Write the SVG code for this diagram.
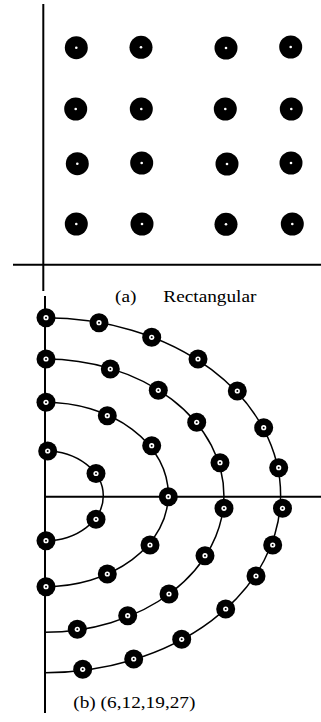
<svg xmlns="http://www.w3.org/2000/svg" width="321" height="722" viewBox="0 0 321 722">
<defs>
<style>
.axis{stroke:#000;stroke-width:2;fill:none}
.arc{stroke:#000;stroke-width:1.5;fill:none}
.lbl{font-family:"Liberation Serif","Times New Roman",serif;font-size:16.5px;fill:#000}
</style>
<g id="gd"><circle r="11.5" fill="#000"/><circle r="1.3" fill="#fff"/></g>
<g id="pd"><circle r="9.5" fill="#000"/><circle r="2.6" fill="#fff"/><circle r="1" fill="#000"/></g>
</defs>
<rect width="321" height="722" fill="#fff"/>
<g id="connectors">
<line class="axis" x1="43.3" y1="4" x2="43.3" y2="291"/>
<line class="axis" x1="13" y1="264.7" x2="321" y2="264.7"/>
<line class="axis" x1="45" y1="296" x2="45" y2="713"/>
<line class="axis" x1="45" y1="496.7" x2="321" y2="496.7"/>
<path class="arc" d="M45 451 A58.3 44.85 0 0 1 45 540.7"/>
<path class="arc" d="M45 402.3 A123.3 92.2 0 0 1 45 586.7"/>
<path class="arc" d="M45 359 A179 136.65 0 0 1 45 632.3"/>
<path class="arc" d="M45 317.7 A235.7 177.5 0 0 1 45 672.7"/>
</g>
<g id="grid">
<use href="#gd" x="76.3" y="47.7"/><use href="#gd" x="141" y="47.3"/><use href="#gd" x="226" y="48"/><use href="#gd" x="290.7" y="47"/>
<use href="#gd" x="75.7" y="109"/><use href="#gd" x="141.3" y="109"/><use href="#gd" x="225.3" y="109"/><use href="#gd" x="291.3" y="109"/>
<use href="#gd" x="77.3" y="163.7"/><use href="#gd" x="141.7" y="163"/><use href="#gd" x="227" y="164"/><use href="#gd" x="291" y="163"/>
<use href="#gd" x="76.3" y="224"/><use href="#gd" x="142" y="224"/><use href="#gd" x="226" y="224.3"/><use href="#gd" x="292.3" y="224"/>
</g>
<g id="ring1">
<use href="#pd" x="47.7" y="451"/><use href="#pd" x="96" y="473.5"/><use href="#pd" x="96" y="519.3"/><use href="#pd" x="46" y="540.7"/>
</g>
<g id="ring2">
<use href="#pd" x="46" y="402.3"/><use href="#pd" x="107.3" y="415.7"/><use href="#pd" x="151.7" y="445.7"/><use href="#pd" x="168.3" y="496.7"/><use href="#pd" x="150" y="545"/><use href="#pd" x="107.3" y="574"/><use href="#pd" x="46" y="586.7"/>
</g>
<g id="ring3">
<use href="#pd" x="46" y="359"/><use href="#pd" x="110.3" y="369"/><use href="#pd" x="158.3" y="390.3"/><use href="#pd" x="196.7" y="422.3"/><use href="#pd" x="220" y="462.7"/><use href="#pd" x="224" y="508.3"/><use href="#pd" x="205" y="555.7"/><use href="#pd" x="169" y="594"/><use href="#pd" x="127.7" y="615.7"/><use href="#pd" x="77.3" y="629.3"/>
</g>
<g id="ring4">
<use href="#pd" x="46" y="317.7"/><use href="#pd" x="99" y="322.7"/><use href="#pd" x="151.7" y="337.3"/><use href="#pd" x="198" y="359"/><use href="#pd" x="237.3" y="391"/><use href="#pd" x="263.7" y="427.7"/><use href="#pd" x="278.7" y="467.7"/><use href="#pd" x="282.5" y="508.3"/><use href="#pd" x="272.7" y="545"/><use href="#pd" x="256" y="576"/><use href="#pd" x="225.7" y="609"/><use href="#pd" x="181.7" y="639.3"/><use href="#pd" x="133.7" y="659"/><use href="#pd" x="82.7" y="669.3"/>
</g>
<g id="labels">
<text class="lbl" transform="translate(115,302.3) scale(1.17,1)">(a)</text>
<text class="lbl" transform="translate(163.3,302.3) scale(1.17,1)">Rectangular</text>
<text class="lbl" transform="translate(73.3,708.3) scale(1.17,1)">(b) (6,12,19,27)</text>
</g>
</svg>
